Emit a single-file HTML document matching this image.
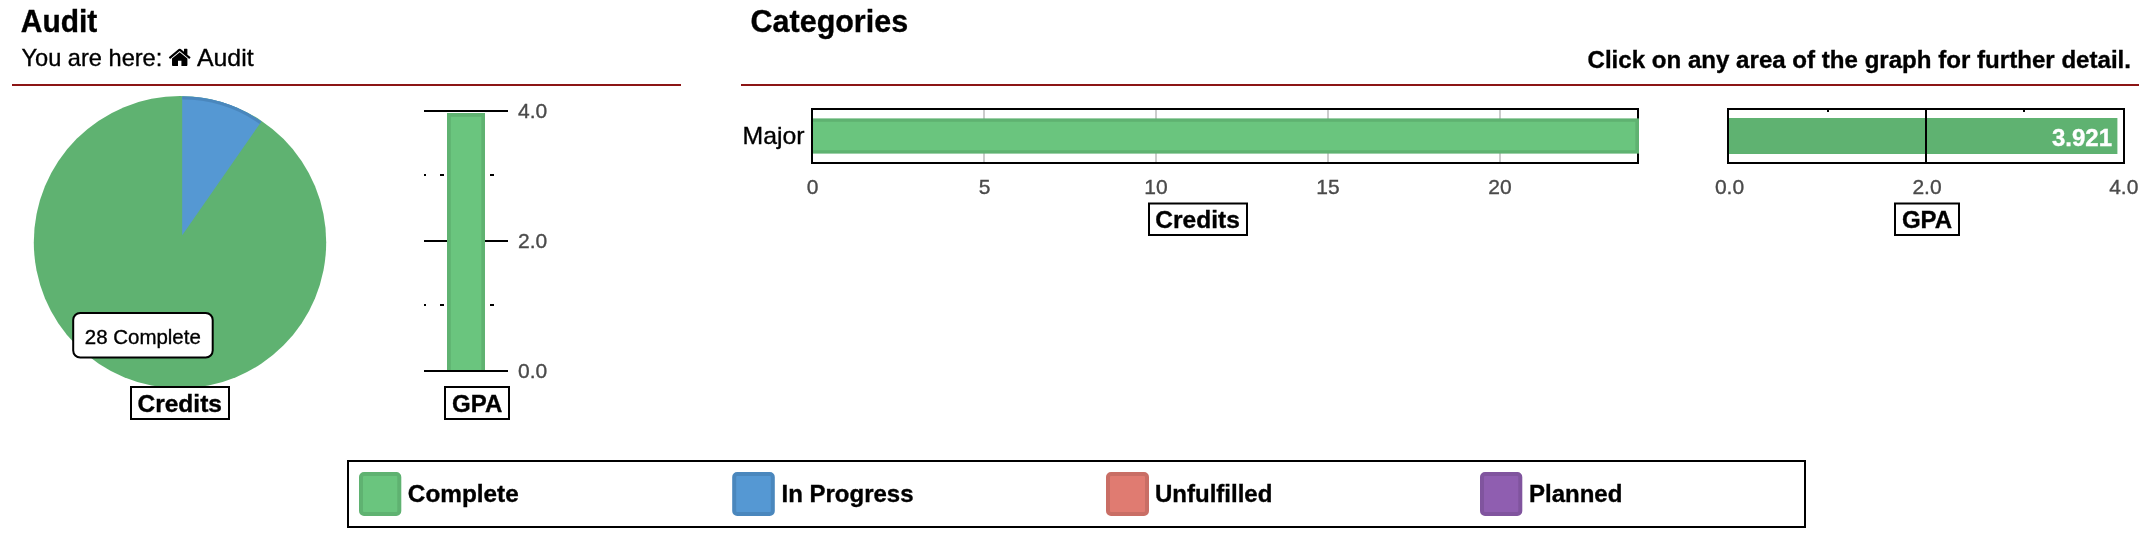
<!DOCTYPE html>
<html>
<head>
<meta charset="utf-8">
<title>Audit</title>
<style>
html,body{margin:0;padding:0;background:#fff;}
body{width:2146px;height:546px;overflow:hidden;position:relative;font-family:"Liberation Sans",sans-serif;}
svg{position:absolute;left:0;top:0;display:block;will-change:transform;}
text{font-family:"Liberation Sans",sans-serif;fill:#000;stroke:#000;stroke-width:0.35px;}
.b{font-weight:bold;}
text.w{fill:#fff;stroke:#fff;}
.tick{fill:#4a4a4a;stroke:#4a4a4a;font-size:21px;}
.lbl{font-weight:bold;font-size:24px;fill:#000;}
</style>
</head>
<body>
<svg width="2146" height="546" viewBox="0 0 2146 546">
  <!-- ===== Left header ===== -->
  <text x="20.8" y="32" class="b" font-size="31" textLength="76.5" lengthAdjust="spacingAndGlyphs">Audit</text>
  <text x="21.5" y="65.8" font-size="24" textLength="140.8" lengthAdjust="spacingAndGlyphs">You are here:</text>
  <g transform="translate(168.6,65.9) scale(0.01335,-0.01335)">
    <path d="M1408 544v-480q0 -26 -19 -45t-45 -19h-384v384h-256v-384h-384q-26 0 -45 19t-19 45v480q0 1 0.5 3t0.5 3l575 474l575 -474q1 -2 1 -6zM1631 613l-62 -74q-8 -9 -21 -11h-3q-13 0 -21 7l-692 577l-692 -577q-12 -8 -24 -7q-13 2 -21 11l-62 74q-8 10 -7 23.5t11 21.5 l719 599q32 26 76 26t76 -26l244 -204v195q0 14 9 23t23 9h192q14 0 23 -9t9 -23v-408l219 -182q10 -8 11 -21.5t-7 -23.5z"/>
  </g>
  <text x="197" y="65.8" font-size="24" textLength="56.6" lengthAdjust="spacingAndGlyphs">Audit</text>
  <rect x="12" y="84" width="669" height="2" fill="#8c1515"/>

  <!-- ===== Pie ===== -->
  <circle cx="180" cy="242.2" r="146.2" fill="#5fb271"/>
  <path d="M182.2 235.2 L182.2 96.6 A138.6 138.6 0 0 1 261.4 121.5 Z" fill="#5598d3"/>
  <path d="M182.2 98.1 A137.1 137.1 0 0 1 260.5 122.7" fill="none" stroke="#4a87bd" stroke-width="3"/>

  <!-- tooltip -->
  <rect x="73.2" y="313" width="139.5" height="44.5" rx="7" ry="7" fill="#fff" stroke="#000" stroke-width="2"/>
  <text x="84.8" y="343.8" font-size="20" textLength="116" lengthAdjust="spacingAndGlyphs">28 Complete</text>

  <!-- Credits label -->
  <rect x="131" y="387" width="98" height="32" fill="#fff" stroke="#000" stroke-width="2"/>
  <text x="179.7" y="412" class="lbl" text-anchor="middle" textLength="84.5" lengthAdjust="spacingAndGlyphs">Credits</text>

  <!-- ===== GPA vertical bar ===== -->
  <rect x="447" y="113" width="38" height="258" fill="#5fb271"/>
  <rect x="450.8" y="116.8" width="30.5" height="255" fill="#6ac57e"/>
  <rect x="424" y="110" width="84" height="2" fill="#000"/>
  <rect x="424" y="240" width="23" height="2" fill="#000"/>
  <rect x="485" y="240" width="23" height="2" fill="#000"/>
  <rect x="424" y="370" width="84" height="2" fill="#000"/>
  <!-- minor dashes -->
  <rect x="424" y="174" width="2" height="2" fill="#000"/>
  <rect x="440" y="174" width="4" height="2" fill="#000"/>
  <rect x="490" y="174" width="4" height="2" fill="#000"/>
  <rect x="424" y="304" width="2" height="2" fill="#000"/>
  <rect x="440" y="304" width="4" height="2" fill="#000"/>
  <rect x="490" y="304" width="4" height="2" fill="#000"/>
  <text x="518" y="118" class="tick">4.0</text>
  <text x="518" y="248" class="tick">2.0</text>
  <text x="518" y="378" class="tick">0.0</text>
  <rect x="445" y="387" width="64" height="32" fill="#fff" stroke="#000" stroke-width="2"/>
  <text x="477.2" y="412" class="lbl" text-anchor="middle">GPA</text>

  <!-- ===== Right header ===== -->
  <text x="750.6" y="32" class="b" font-size="31" textLength="157.5" lengthAdjust="spacingAndGlyphs">Categories</text>
  <text x="1587.5" y="68" class="b" font-size="24" textLength="543.5" lengthAdjust="spacingAndGlyphs">Click on any area of the graph for further detail.</text>
  <rect x="741" y="84" width="1398" height="2" fill="#8c1515"/>

  <!-- ===== Credits bar chart ===== -->
  <text x="742.6" y="144" font-size="24" textLength="62" lengthAdjust="spacingAndGlyphs">Major</text>
  <rect x="983" y="109" width="2" height="54" fill="#ccc"/>
  <rect x="1155" y="109" width="2" height="54" fill="#ccc"/>
  <rect x="1327" y="109" width="2" height="54" fill="#ccc"/>
  <rect x="1499" y="109" width="2" height="54" fill="#ccc"/>
  <rect x="812" y="109" width="826" height="54" fill="none" stroke="#000" stroke-width="2"/>
  <rect x="813" y="118.4" width="826" height="35.2" fill="#5fb271"/>
  <rect x="813" y="121.8" width="822.3" height="28.4" fill="#6ac57e"/>
  <rect x="811" y="108" width="2" height="56" fill="#000"/>
  <text x="812.5" y="194.3" class="tick" text-anchor="middle">0</text>
  <text x="984.5" y="194.3" class="tick" text-anchor="middle">5</text>
  <text x="1156" y="194.3" class="tick" text-anchor="middle">10</text>
  <text x="1328" y="194.3" class="tick" text-anchor="middle">15</text>
  <text x="1500" y="194.3" class="tick" text-anchor="middle">20</text>
  <rect x="1149" y="203.5" width="98" height="31.5" fill="#fff" stroke="#000" stroke-width="2"/>
  <text x="1197.6" y="227.7" class="lbl" text-anchor="middle" textLength="84.5" lengthAdjust="spacingAndGlyphs">Credits</text>

  <!-- ===== GPA bar chart ===== -->
  <rect x="1729" y="118" width="388.4" height="36" fill="#5fb271"/>
  <rect x="1827" y="110" width="2" height="2" fill="#000"/>
  <rect x="2023" y="110" width="2" height="2" fill="#000"/>
  <rect x="1925" y="109" width="2" height="54" fill="#000"/>
  <rect x="1728" y="109" width="396" height="54" fill="none" stroke="#000" stroke-width="2"/>
  <text x="2112" y="146" class="b w" font-size="24" text-anchor="end">3.921</text>
  <text x="1729.5" y="194.3" class="tick" text-anchor="middle">0.0</text>
  <text x="1927" y="194.3" class="tick" text-anchor="middle">2.0</text>
  <text x="2123.8" y="194.3" class="tick" text-anchor="middle">4.0</text>
  <rect x="1895" y="203.5" width="64" height="31.5" fill="#fff" stroke="#000" stroke-width="2"/>
  <text x="1927" y="227.5" class="lbl" text-anchor="middle">GPA</text>

  <!-- ===== Legend ===== -->
  <rect x="348" y="461" width="1457" height="66" fill="#fff" stroke="#000" stroke-width="2"/>
  <rect x="361" y="474" width="38.3" height="40" rx="3" ry="3" fill="#6ac57e" stroke="#5fb271" stroke-width="4"/>
  <text x="407.8" y="501.8" class="lbl" textLength="111" lengthAdjust="spacingAndGlyphs">Complete</text>
  <rect x="734.2" y="474" width="38.6" height="40" rx="3" ry="3" fill="#5598d3" stroke="#4a87bd" stroke-width="4"/>
  <text x="781.5" y="501.8" class="lbl">In Progress</text>
  <rect x="1108" y="474" width="39" height="40" rx="3" ry="3" fill="#e07b71" stroke="#c96e65" stroke-width="4"/>
  <text x="1155" y="501.8" class="lbl">Unfulfilled</text>
  <rect x="1482" y="474" width="38.3" height="40" rx="3" ry="3" fill="#8f5eb0" stroke="#80549e" stroke-width="4"/>
  <text x="1529" y="501.8" class="lbl">Planned</text>
</svg>
</body>
</html>
